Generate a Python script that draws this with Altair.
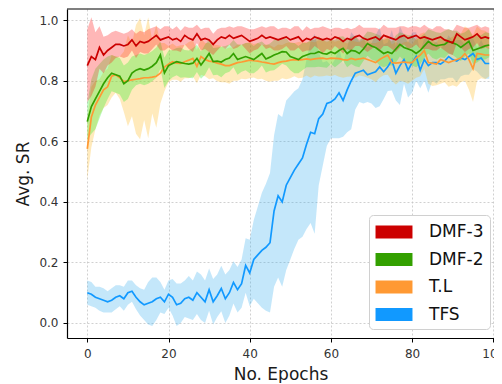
import altair as alt
import pandas as pd

epochs = list(range(100))
series_names = ["DMF-3", "DMF-2", "T.L", "TFS"]

dmf3 = [0.85, 0.88, 0.87, 0.91, 0.885, 0.90, 0.91, 0.92, 0.92, 0.915,
        0.92, 0.935, 0.915, 0.93, 0.925, 0.93, 0.94, 0.95, 0.935, 0.94,
        0.945, 0.935, 0.94, 0.93, 0.95, 0.94, 0.935, 0.955, 0.935, 0.94,
        0.935, 0.92, 0.935, 0.945, 0.94, 0.95, 0.94, 0.945, 0.95, 0.94,
        0.93, 0.935, 0.94, 0.95, 0.94, 0.945, 0.94, 0.935, 0.94, 0.945,
        0.935, 0.94, 0.945, 0.93, 0.94, 0.935, 0.945, 0.94, 0.935, 0.94,
        0.935, 0.945, 0.94, 0.93, 0.94, 0.935, 0.945, 0.95, 0.94, 0.935,
        0.94, 0.945, 0.935, 0.95, 0.945, 0.94, 0.935, 0.945, 0.95, 0.94,
        0.945, 0.95, 0.94, 0.945, 0.94, 0.935, 0.94, 0.945, 0.935, 0.93,
        0.925, 0.955, 0.945, 0.935, 0.94, 0.945, 0.955, 0.94, 0.945, 0.94]
dmf3_hw = [0.12, 0.13, 0.09, 0.07, 0.06, 0.05, 0.05, 0.045, 0.04, 0.04,
           0.04, 0.035, 0.04, 0.035, 0.035, 0.04, 0.035, 0.03, 0.035, 0.04,
           0.035, 0.035, 0.04, 0.035, 0.03, 0.035, 0.04, 0.03, 0.035, 0.035,
           0.04, 0.035, 0.035, 0.03, 0.035, 0.03, 0.035, 0.035, 0.03, 0.035,
           0.04, 0.035, 0.035, 0.03, 0.035, 0.035, 0.04, 0.035, 0.035, 0.03,
           0.035, 0.04, 0.035, 0.035, 0.04, 0.035, 0.03, 0.035, 0.045, 0.035,
           0.035, 0.03, 0.035, 0.04, 0.035, 0.035, 0.03, 0.035, 0.035, 0.04,
           0.035, 0.03, 0.035, 0.035, 0.03, 0.035, 0.04, 0.035, 0.03, 0.035,
           0.035, 0.03, 0.035, 0.04, 0.035, 0.035, 0.04, 0.035, 0.035, 0.04,
           0.04, 0.03, 0.035, 0.04, 0.035, 0.035, 0.03, 0.035, 0.035, 0.035]

dmf2 = [0.665, 0.715, 0.74, 0.765, 0.79, 0.81, 0.825, 0.82, 0.815, 0.79,
        0.80, 0.825, 0.835, 0.84, 0.835, 0.84, 0.848, 0.86, 0.885, 0.826,
        0.85, 0.857, 0.863, 0.86, 0.857, 0.855, 0.858, 0.874, 0.852, 0.87,
        0.89, 0.863, 0.865, 0.862, 0.87, 0.875, 0.89, 0.87, 0.875, 0.88,
        0.875, 0.87, 0.88, 0.89, 0.872, 0.878, 0.885, 0.89, 0.896, 0.895,
        0.88, 0.875, 0.87, 0.88, 0.885, 0.89, 0.89, 0.896, 0.89, 0.888,
        0.895, 0.89, 0.90, 0.907, 0.89, 0.90, 0.898, 0.89, 0.905, 0.923,
        0.915, 0.91, 0.90, 0.89, 0.895, 0.89, 0.905, 0.92, 0.91, 0.905,
        0.90, 0.89, 0.90, 0.915, 0.93, 0.92, 0.915, 0.918, 0.92, 0.93,
        0.925, 0.92, 0.91, 0.92, 0.93, 0.90, 0.905, 0.91, 0.915, 0.918]
dmf2_hw = [0.06, 0.09, 0.10, 0.09, 0.08, 0.07, 0.06, 0.06, 0.06, 0.06,
           0.06, 0.055, 0.05, 0.05, 0.05, 0.05, 0.05, 0.05, 0.045, 0.05,
           0.05, 0.045, 0.045, 0.05, 0.045, 0.045, 0.05, 0.045, 0.045, 0.05,
           0.045, 0.045, 0.045, 0.05, 0.045, 0.045, 0.045, 0.05, 0.045, 0.045,
           0.05, 0.045, 0.045, 0.04, 0.045, 0.045, 0.05, 0.045, 0.04, 0.045,
           0.045, 0.05, 0.045, 0.045, 0.04, 0.045, 0.045, 0.05, 0.045, 0.045,
           0.04, 0.045, 0.045, 0.04, 0.045, 0.045, 0.05, 0.045, 0.04, 0.04,
           0.045, 0.045, 0.05, 0.045, 0.045, 0.04, 0.045, 0.04, 0.045, 0.045,
           0.05, 0.045, 0.045, 0.04, 0.04, 0.045, 0.045, 0.04, 0.045, 0.04,
           0.04, 0.045, 0.045, 0.04, 0.04, 0.045, 0.045, 0.04, 0.045, 0.04]

tl = [0.575, 0.68, 0.72, 0.745, 0.77, 0.78, 0.815, 0.82, 0.81, 0.797,
      0.80, 0.803, 0.805, 0.807, 0.81, 0.81, 0.812, 0.815, 0.825, 0.845,
      0.855, 0.863, 0.858, 0.857, 0.863, 0.868, 0.874, 0.847, 0.88, 0.87,
      0.865, 0.863, 0.858, 0.855, 0.85, 0.85, 0.855, 0.86, 0.862, 0.865,
      0.868, 0.866, 0.865, 0.862, 0.86, 0.857, 0.855, 0.86, 0.863, 0.865,
      0.868, 0.87, 0.868, 0.87, 0.872, 0.87, 0.872, 0.874, 0.875, 0.872,
      0.875, 0.874, 0.873, 0.87, 0.868, 0.874, 0.87, 0.872, 0.875, 0.87,
      0.865, 0.86, 0.87, 0.878, 0.885, 0.86, 0.858, 0.86, 0.862, 0.86,
      0.86, 0.875, 0.885, 0.90, 0.86, 0.858, 0.855, 0.87, 0.865, 0.86,
      0.865, 0.87, 0.875, 0.89, 0.87, 0.84, 0.89, 0.888, 0.885, 0.885]
tl_hw = [0.10, 0.10, 0.08, 0.06, 0.06, 0.06, 0.07, 0.06, 0.07, 0.10,
         0.15, 0.12, 0.18, 0.20, 0.14, 0.20, 0.12, 0.17, 0.10, 0.08,
         0.06, 0.06, 0.055, 0.06, 0.055, 0.06, 0.06, 0.055, 0.06, 0.055,
         0.06, 0.055, 0.06, 0.06, 0.055, 0.06, 0.055, 0.06, 0.055, 0.06,
         0.06, 0.055, 0.06, 0.055, 0.06, 0.06, 0.055, 0.06, 0.055, 0.06,
         0.06, 0.055, 0.06, 0.06, 0.055, 0.06, 0.055, 0.06, 0.06, 0.055,
         0.06, 0.055, 0.06, 0.06, 0.055, 0.06, 0.06, 0.055, 0.06, 0.06,
         0.06, 0.065, 0.06, 0.06, 0.065, 0.06, 0.07, 0.06, 0.065, 0.07,
         0.06, 0.065, 0.07, 0.06, 0.07, 0.075, 0.07, 0.08, 0.07, 0.08,
         0.08, 0.09, 0.08, 0.09, 0.10, 0.11, 0.09, 0.08, 0.08, 0.07]

tfs = [0.10, 0.095, 0.085, 0.08, 0.075, 0.07, 0.075, 0.085, 0.09, 0.08,
       0.10, 0.105, 0.085, 0.07, 0.06, 0.065, 0.07, 0.08, 0.085, 0.07,
       0.095, 0.085, 0.06, 0.065, 0.08, 0.085, 0.075, 0.10, 0.085, 0.07,
       0.11, 0.07, 0.09, 0.114, 0.08, 0.10, 0.134, 0.11, 0.13, 0.19,
       0.165, 0.21, 0.225, 0.24, 0.25, 0.265, 0.37, 0.42, 0.40, 0.455,
       0.48, 0.505, 0.525, 0.545, 0.59, 0.63, 0.625, 0.675, 0.69, 0.725,
       0.73, 0.74, 0.76, 0.735, 0.77, 0.80, 0.825, 0.83, 0.835, 0.82,
       0.825, 0.83, 0.846, 0.83, 0.846, 0.868, 0.825, 0.85, 0.87, 0.835,
       0.86, 0.88, 0.835, 0.87, 0.85, 0.86, 0.86, 0.855, 0.865, 0.88,
       0.87, 0.865, 0.875, 0.87, 0.88, 0.89, 0.87, 0.875, 0.857, 0.857]
tfs_hw = [0.04, 0.04, 0.035, 0.04, 0.04, 0.035, 0.04, 0.04, 0.035, 0.04,
          0.04, 0.035, 0.04, 0.045, 0.05, 0.07, 0.08, 0.07, 0.05, 0.04,
          0.045, 0.06, 0.07, 0.065, 0.06, 0.07, 0.065, 0.07, 0.075, 0.07,
          0.07, 0.075, 0.07, 0.075, 0.08, 0.075, 0.07, 0.075, 0.08, 0.09,
          0.11, 0.13, 0.16, 0.19, 0.21, 0.23, 0.25, 0.27, 0.28, 0.28,
          0.27, 0.26, 0.25, 0.26, 0.28, 0.30, 0.33, 0.22, 0.17, 0.14,
          0.12, 0.13, 0.15, 0.12, 0.14, 0.16, 0.12, 0.10, 0.11, 0.09,
          0.10, 0.12, 0.13, 0.09, 0.08, 0.10, 0.09, 0.13, 0.08, 0.09,
          0.10, 0.08, 0.06, 0.07, 0.09, 0.06, 0.07, 0.05, 0.06, 0.07,
          0.06, 0.07, 0.06, 0.05, 0.06, 0.05, 0.04, 0.06, 0.05, 0.05]

x_ticks = [0, 20, 40, 60, 80, 100]
y_ticks = [0.0, 0.2, 0.4, 0.6, 0.8, 1.0]

line_colors = {"DMF-3": "#cc0000", "DMF-2": "#33a000", "T.L": "#ff9933", "TFS": "#1199ff"}
band_colors = {"DMF-3": "#ff1010", "DMF-2": "#22ee22", "T.L": "#ffbb22", "TFS": "#3ab0f0"}

means = {"DMF-3": dmf3, "DMF-2": dmf2, "T.L": tl, "TFS": tfs}
hws = {"DMF-3": dmf3_hw, "DMF-2": dmf2_hw, "T.L": tl_hw, "TFS": tfs_hw}

rows = []
for name in series_names:
    for e, m, h in zip(epochs, means[name], hws[name]):
        rows.append({"epoch": e, "series": name,
                     "mean": m, "lo": m - h, "hi": m + h})
df = pd.DataFrame(rows)

W, H = 427, 329
xscale = alt.Scale(domain=[-5.0, 100.17], nice=False, zero=False)
yscale = alt.Scale(domain=[-0.0496, 1.037], nice=False, zero=False)

xaxis = alt.Axis(values=x_ticks, title="No. Epochs", format="d")
yaxis = alt.Axis(values=y_ticks, title="Avg. SR", format=".1f")

legend = alt.Legend(
    title=None, orient="none", legendX=302, legendY=206,
    symbolType="M-1.68,-0.59L1.68,-0.59L1.68,0.59L-1.68,0.59Z", symbolSize=484,
    symbolStrokeWidth=0, symbolOpacity=1, symbolOffset=8,
    labelFontSize=17, labelFont="DejaVu Sans", labelColor="#111111",
    labelOffset=24, rowPadding=8.5,
    fillColor="white", strokeColor="#d0d0d0", cornerRadius=4, padding=6,
)

order = ["TFS", "T.L", "DMF-2", "DMF-3"]
layers = []
for name in order:
    sub = df[df["series"] == name]
    layers.append(
        alt.Chart(sub).mark_area(color=band_colors[name], opacity=0.3, clip=True).encode(
            x=alt.X("epoch:Q", scale=xscale, axis=xaxis),
            y=alt.Y("lo:Q", scale=yscale, axis=yaxis),
            y2="hi:Q",
        )
    )
for name in order:
    sub = df[df["series"] == name]
    layers.append(
        alt.Chart(sub).mark_line(color=line_colors[name], strokeWidth=1.7, clip=True).encode(
            x=alt.X("epoch:Q", scale=xscale, axis=xaxis),
            y=alt.Y("mean:Q", scale=yscale, axis=yaxis),
        )
    )

# invisible points that carry the filled-patch legend
layers.append(
    alt.Chart(df).mark_point(filled=True, opacity=0).encode(
        x=alt.X("epoch:Q", scale=xscale, axis=xaxis),
        y=alt.Y("mean:Q", scale=yscale, axis=yaxis),
        color=alt.Color("series:N", legend=legend,
                        scale=alt.Scale(domain=series_names,
                                        range=[line_colors[n] for n in series_names])),
    )
)

top_rule = alt.Chart(pd.DataFrame({"a": [0]})).mark_rule(color="black", strokeWidth=1.2).encode(
    x=alt.value(0), x2=alt.value(W), y=alt.value(0)
)
layers.append(top_rule)

chart = alt.layer(*layers).properties(
    width=W, height=H,
    autosize=alt.AutoSizeParams(type="none"),
    padding={"left": 59, "top": 1, "right": 0, "bottom": 45},
).configure(font="DejaVu Sans").configure_view(stroke=None).configure_axis(
    grid=True, gridColor="#c4c4c4", gridDash=[2, 2], gridWidth=0.8,
    domain=True, domainColor="black", domainWidth=1.2,
    tickColor="black", tickSize=4, tickWidth=1,
    labelFont="DejaVu Sans", labelFontSize=12, labelColor="#333333",
    titleFont="DejaVu Sans", titleFontSize=17, titleFontWeight="normal", titleColor="#1a1a1a",
).configure_axisY(titlePadding=6, labelPadding=5).configure_axisX(
    titlePadding=7, labelPadding=6, labelFlush=False)

chart.save("out.html", embed_options={"renderer": "svg", "actions": False})
